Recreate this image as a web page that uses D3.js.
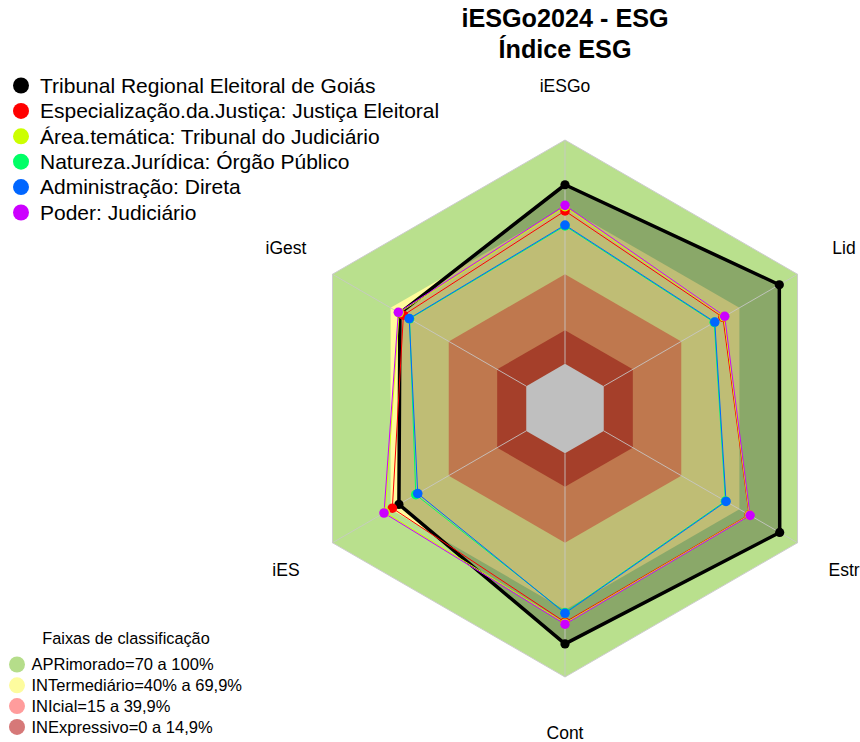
<!DOCTYPE html>
<html><head><meta charset="utf-8">
<script src="https://cdn.jsdelivr.net/npm/d3@7/dist/d3.min.js"></script>
<style>
html,body{margin:0;padding:0;background:#fff;}
svg{display:block;font-family:"Liberation Sans",Arial,sans-serif;}
</style></head>
<body><svg id="chart" width="860" height="742"></svg>
<script>
// ---- data ----
const categories = ["iESGo", "Lid", "Estr", "Cont", "iES", "iGest"];
const seriesNames = [
  "Tribunal Regional Eleitoral de Goiás",
  "Especialização.da.Justiça: Justiça Eleitoral",
  "Área.temática: Tribunal do Judiciário",
  "Natureza.Jurídica: Órgão Público",
  "Administração: Direta",
  "Poder: Judiciário"
];
const seriesColors = ["#000000", "#ff0000", "#ccff00", "#00ff66", "#0066ff", "#cc00ff"];
const valuesTRE      = [80.0, 90.6, 90.8, 85.2, 65.7, 65.2];
const valuesEspec    = [68.3, 61.5, 75.0, 75.5, 69.1, 63.4];
const valuesArea     = [70.2, 62.0, 75.2, 76.0, 72.8, 65.6];
const valuesNatureza = [61.6, 57.0, 62.8, 71.2, 57.0, 60.2];
const valuesAdmin    = [62.0, 57.3, 63.1, 71.5, 56.0, 60.4];
const valuesPoder    = [70.8, 62.4, 75.5, 76.4, 73.4, 66.0];
const seriesValues = [valuesTRE, valuesEspec, valuesArea, valuesNatureza, valuesAdmin, valuesPoder];

const bandBreaks = [100, 70, 40, 15, 0];
const bandFill = ["#b9e08d", "#fffc9c", "#ffa068", "#dc5538", "#ffffff"];
const legendBands = ["APRimorado=70 a 100%", "INTermediário=40% a 69,9%", "INIcial=15 a 39,9%", "INExpressivo=0 a 14,9%"];
const legendBandColors = ["#b5dd8a", "#fdfc9e", "#ff9c9c", "#d67878"];
const title1 = "iESGo2024 - ESG";
const title2 = "Índice ESG";
const bandLegendTitle = "Faixas de classificação";

// ---- layout ----
const svg = d3.select("#chart");
const cx = 565, cy = 408.5, R = 268.5;
const rScale = d3.scaleLinear().domain([-20, 100]).range([0, R]);
const aScale = d3.scaleLinear().domain([0, categories.length]).range([0, 2 * Math.PI]);
const g = svg.append("g").attr("transform", `translate(${cx},${cy})`);

const radial = d3.lineRadial()
  .angle((d, i) => aScale(i))
  .radius(d => rScale(d))
  .curve(d3.curveLinearClosed);

// bands
bandBreaks.forEach((b, k) => {
  g.append("path")
    .attr("d", radial(categories.map(() => b)))
    .attr("fill", bandFill[k])
    .attr("stroke", k === 0 ? "#cccccc" : "none")
    .attr("stroke-width", 1);
});

// TRE polygon fill (darkening)
g.append("path")
  .attr("d", radial(valuesTRE))
  .attr("fill", "rgba(0,0,0,0.25)")
  .attr("stroke", "none");

// spokes
categories.forEach((c, i) => {
  const a = aScale(i);
  const r0 = rScale(0), r1 = rScale(100);
  g.append("line")
    .attr("x1", r0 * Math.sin(a)).attr("y1", -r0 * Math.cos(a))
    .attr("x2", r1 * Math.sin(a)).attr("y2", -r1 * Math.cos(a))
    .attr("stroke", "#c8c8c8").attr("stroke-opacity", 0.85).attr("stroke-width", 1);
});

// series lines
seriesValues.forEach((vals, s) => {
  g.append("path")
    .attr("d", radial(vals))
    .attr("fill", "none")
    .attr("stroke", seriesColors[s])
    .attr("stroke-width", s === 0 ? 3.5 : 1)
    .attr("stroke-linejoin", "round");
});
// series points
seriesValues.forEach((vals, s) => {
  g.selectAll(null).data(vals).enter().append("circle")
    .attr("cx", (d, i) => rScale(d) * Math.sin(aScale(i)))
    .attr("cy", (d, i) => -rScale(d) * Math.cos(aScale(i)))
    .attr("r", s === 0 ? 4.6 : 4.8)
    .attr("fill", seriesColors[s]);
});

// axis labels
const labelR = rScale(100) * 1.2;
categories.forEach((c, i) => {
  const a = aScale(i);
  g.append("text")
    .attr("x", labelR * Math.sin(a))
    .attr("y", -labelR * Math.cos(a) + (i === 3 ? 2 : 0))
    .attr("dy", "0.35em")
    .attr("text-anchor", "middle")
    .attr("font-size", 17.5)
    .attr("fill", "#000")
    .text(c);
});

// title
svg.append("text").attr("x", cx).attr("y", 27).attr("text-anchor", "middle")
  .attr("font-size", 25.2).attr("font-weight", "bold").text(title1);
svg.append("text").attr("x", cx).attr("y", 58).attr("text-anchor", "middle")
  .attr("font-size", 25.2).attr("font-weight", "bold").text(title2);

// series legend
seriesNames.forEach((n, i) => {
  const y = 85.5 + i * 25.4;
  svg.append("circle").attr("cx", 21).attr("cy", y).attr("r", 8).attr("fill", seriesColors[i]);
  svg.append("text").attr("x", 40).attr("y", y).attr("dy", "0.35em")
    .attr("font-size", 21).text(n);
});

// band legend
svg.append("text").attr("x", 126).attr("y", 644).attr("text-anchor", "middle")
  .attr("font-size", 16.3).text(bandLegendTitle);
legendBands.forEach((n, i) => {
  const y = 664.5 + i * 20.8;
  svg.append("circle").attr("cx", 17).attr("cy", y).attr("r", 8).attr("fill", legendBandColors[i]);
  svg.append("text").attr("x", 31.5).attr("y", y).attr("dy", "0.35em")
    .attr("font-size", 16.5).text(n);
});
</script>
</body></html>
